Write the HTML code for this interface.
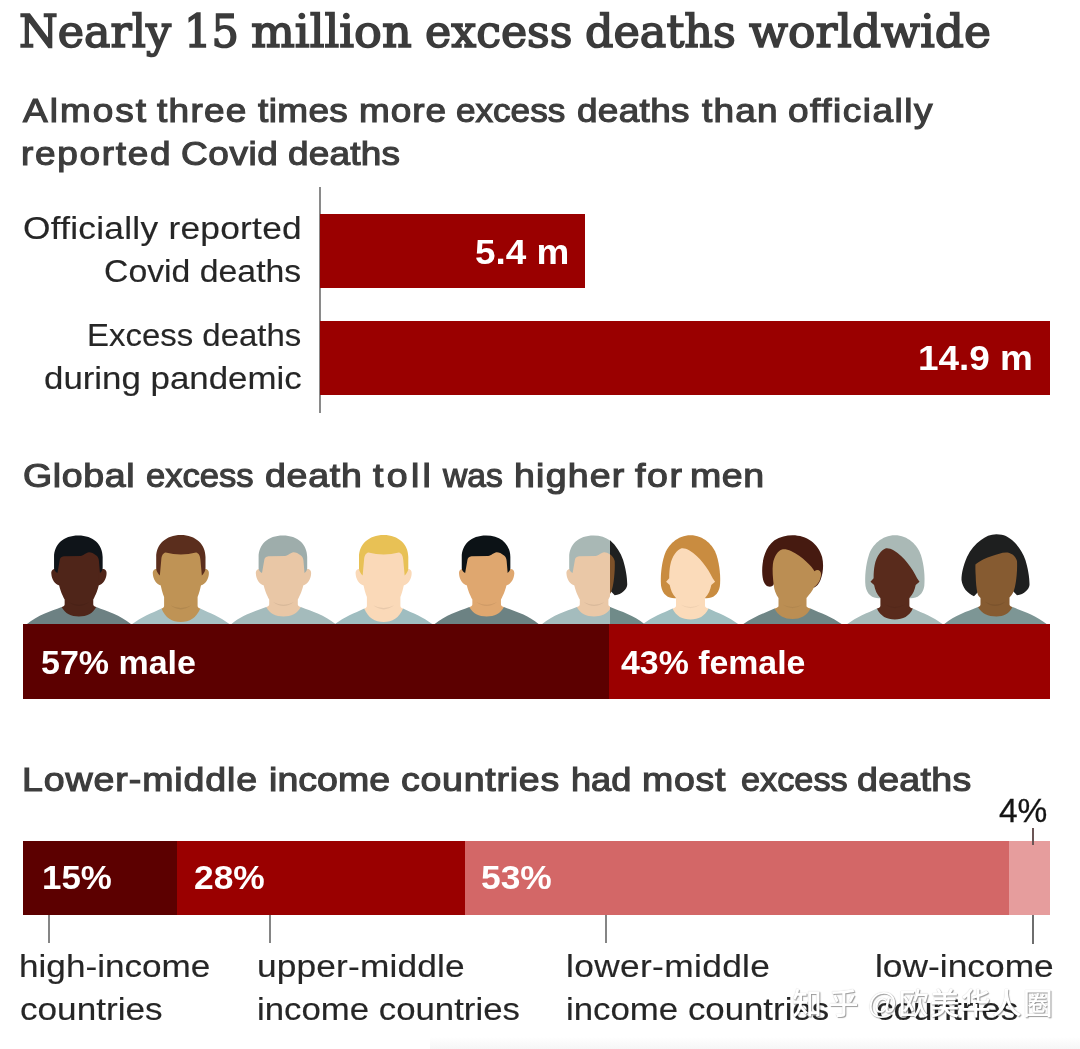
<!DOCTYPE html>
<html lang="en">
<head>
<meta charset="utf-8">
<title>Nearly 15 million excess deaths worldwide</title>
<style>
html,body{margin:0;padding:0;background:#fff}
#page{position:relative;width:1080px;height:1049px;overflow:hidden;background:#fff;font-family:"Liberation Sans",sans-serif}
h1,h2,p,section{margin:0;padding:0;font-size:inherit;font-weight:inherit;display:block;position:static}
.row{position:static}
.t{position:absolute;white-space:nowrap;transform-origin:0 0;margin:0;padding:0;display:block}
.title{font-family:"DejaVu Serif","Liberation Serif",serif;font-weight:normal;color:#3b3b3b;-webkit-text-stroke:1.6px #3b3b3b;paint-order:stroke fill}
.h2{font-weight:normal;color:#3d3d3d;-webkit-text-stroke:1.15px #3d3d3d}
.lab{font-weight:normal;color:#262626;-webkit-text-stroke:.15px #262626}
.val{font-weight:bold;color:#fff}
.pct4{font-weight:normal;color:#141414;-webkit-text-stroke:.3px #141414}
.bar{position:absolute}
.axis{position:absolute;background:#8a8a8a}
.tick{position:absolute;background:#858585;width:2px}
.people{position:absolute;left:0;top:530px}
.wm{position:absolute;white-space:nowrap;font-weight:500;font-family:"Liberation Sans","Noto Sans CJK SC",sans-serif;color:#fff;text-shadow:1px 1px 1px rgba(0,0,0,.38),0 0 1px rgba(0,0,0,.25);transform-origin:0 0}
.foot{position:absolute;left:430px;top:1037px;width:650px;height:12px;background:linear-gradient(#fff,#f6f6f6)}
</style>
</head>
<body>
<div id="page">
<div class="foot"></div>
<h1><span class="t title" style="left:18.78px;top:4.47px;font-size:44px;line-height:55px;transform:scaleX(1.0082)">Nearly</span> <span class="t title" style="left:183.89px;top:4.47px;font-size:44px;line-height:55px;transform:scaleX(0.9814)">15</span> <span class="t title" style="left:250.55px;top:4.47px;font-size:44px;line-height:55px;transform:scaleX(1.0515)">million</span> <span class="t title" style="left:424.59px;top:4.47px;font-size:44px;line-height:55px;transform:scaleX(1.0055)">excess</span> <span class="t title" style="left:584.58px;top:4.47px;font-size:44px;line-height:55px;transform:scaleX(1.0120)">deaths</span> <span class="t title" style="left:749.10px;top:4.47px;font-size:44px;line-height:55px;transform:scaleX(1.0366)">worldwide</span></h1>

<!-- section 1: officially reported vs excess deaths -->
<section>
<h2><span class="t h2" style="left:22.57px;top:90.48px;font-size:33px;line-height:41px;transform:scaleX(1.1200);letter-spacing:1.801px">Almost</span> <span class="t h2" style="left:156.57px;top:90.48px;font-size:33px;line-height:41px;transform:scaleX(1.1200);letter-spacing:1.143px">three</span> <span class="t h2" style="left:257.57px;top:90.48px;font-size:33px;line-height:41px;transform:scaleX(1.1200);letter-spacing:0.336px">times</span> <span class="t h2" style="left:359.33px;top:90.48px;font-size:33px;line-height:41px;transform:scaleX(1.1200);letter-spacing:0.833px">more</span> <span class="t h2" style="left:456.11px;top:90.48px;font-size:33px;line-height:41px;transform:scaleX(1.0637)">excess</span> <span class="t h2" style="left:576.86px;top:90.48px;font-size:33px;line-height:41px;transform:scaleX(1.1200);letter-spacing:0.279px">deaths</span> <span class="t h2" style="left:701.98px;top:90.48px;font-size:33px;line-height:41px;transform:scaleX(1.1200);letter-spacing:1.081px">than</span> <span class="t h2" style="left:788.46px;top:90.48px;font-size:33px;line-height:41px;transform:scaleX(1.1200);letter-spacing:1.352px">officially</span>
<span class="t h2" style="left:21.34px;top:133.48px;font-size:33px;line-height:41px;transform:scaleX(1.1200);letter-spacing:1.523px">reported</span> <span class="t h2" style="left:181.05px;top:133.48px;font-size:33px;line-height:41px;transform:scaleX(1.1200);letter-spacing:0.534px">Covid</span> <span class="t h2" style="left:288.45px;top:133.48px;font-size:33px;line-height:41px;transform:scaleX(1.1200);letter-spacing:0.189px">deaths</span></h2>
<div class="axis" style="left:319px;top:187px;width:2px;height:226px"></div>
<div class="row">
<p><span class="t lab" style="left:22.95px;top:209.20px;font-size:31.5px;line-height:39px;transform:scaleX(1.1200);letter-spacing:0.238px">Officially reported</span> <span class="t lab" style="left:103.50px;top:252.00px;font-size:31.5px;line-height:39px;transform:scaleX(1.0727)">Covid deaths</span></p>
<div class="bar" style="left:320px;top:214px;width:265px;height:74px;background:#9a0000"></div>
<span class="t val" style="left:474.93px;top:231.04px;font-size:34.5px;line-height:43px;transform:scaleX(1.0696)">5.4 m</span>
</div>
<div class="row">
<p><span class="t lab" style="left:87.48px;top:315.80px;font-size:31.5px;line-height:39px;transform:scaleX(1.0457)">Excess deaths</span> <span class="t lab" style="left:44.17px;top:358.50px;font-size:31.5px;line-height:39px;transform:scaleX(1.1060)">during pandemic</span></p>
<div class="bar" style="left:320px;top:321px;width:730px;height:74px;background:#9a0000"></div>
<span class="t val" style="left:918.36px;top:337.04px;font-size:34.5px;line-height:43px;transform:scaleX(1.0701)">14.9 m</span>
</div>
</section>

<!-- section 2: gender split -->
<section>
<h2><span class="t h2" style="left:22.85px;top:454.81px;font-size:33.5px;line-height:42px;transform:scaleX(1.1200);letter-spacing:0.559px">Global</span> <span class="t h2" style="left:145.54px;top:454.81px;font-size:33.5px;line-height:42px;transform:scaleX(1.0326)">excess</span> <span class="t h2" style="left:265.45px;top:454.81px;font-size:33.5px;line-height:42px;transform:scaleX(1.1200);letter-spacing:0.648px">death</span> <span class="t h2" style="left:372.57px;top:454.81px;font-size:33.5px;line-height:42px;transform:scaleX(1.1200);letter-spacing:2.947px">toll</span> <span class="t h2" style="left:442.98px;top:454.81px;font-size:33.5px;line-height:42px;transform:scaleX(1.0038)">was</span> <span class="t h2" style="left:513.74px;top:454.81px;font-size:33.5px;line-height:42px;transform:scaleX(1.1200);letter-spacing:1.083px">higher</span> <span class="t h2" style="left:634.58px;top:454.81px;font-size:33.5px;line-height:42px;transform:scaleX(1.1200);letter-spacing:1.446px">for</span> <span class="t h2" style="left:690.34px;top:454.81px;font-size:33.5px;line-height:42px;transform:scaleX(1.1200);letter-spacing:0.504px">men</span></h2>
<svg class="people" width="1080" height="100" viewBox="0 530 1080 100" aria-hidden="true">
<defs><clipPath id="cl"><rect x="500" y="520" width="110" height="120"/></clipPath><clipPath id="cr"><rect x="610" y="520" width="100" height="120"/></clipPath></defs>
<g><path d="M59.95,555 L57.45,555 57.15,569.6 C54.45,568 50.75,569.5 51.35,574 C51.75,579 54.45,584.5 59.95,585.5 Z" fill="#4f2519"/>
<path d="M97.95,555 L100.45,555 100.75,569.6 C103.45,568 107.15,569.5 106.55,574 C106.15,579 103.45,584.5 97.95,585.5 Z" fill="#4f2519"/>
<path d="M58.95,548 L58.95,584 C59.65,589 62.45,595.5 64.65,599.5 L64.65,604.5 C64.65,606 62.65,606.7 61.65,607 L61.65,626 96.25,626 96.25,607 C95.25,606.7 93.25,606 93.25,604.5 L93.25,599.5 C95.45,595.5 98.25,589 98.95,584 L98.95,548 Z" fill="#4f2519"/>
<path d="M68.45,602 Q78.95,607.4 89.45,602 Q78.95,610.2 68.45,602 Z" fill="#000" opacity=".07"/>
<path d="M26.65,626 L26.65,624.2 C38.32,614.67 49.98,611.63 61.65,607 C65.11,613.65 71.16,616.5 78.95,616.5 C86.73,616.5 92.79,613.65 96.25,607 C107.92,611.63 119.58,614.67 131.25,624.2 L131.25,626 Z" fill="#6d8183"/>
<path d="M54.05,568.5 L54.05,557 C54.05,544.5 63.35,535.4 78.35,535.4 C93.35,535.4 102.65,544.5 102.65,557 L102.65,568.5 C102.35,570.5 101.15,572 99.95,573 L98.95,561 C98.75,558.5 97.95,556.6 96.35,555.6 C93.85,553.4 90.85,552.2 88.95,552.3 C85.85,552.5 83.85,555.8 80.35,556.1 L63.85,556.2 C61.35,556.4 59.85,558 59.65,560.5 L57.45,573 C55.75,572 54.35,570.5 54.05,568.5 Z" fill="#0f1419"/></g>
<g><path d="M161.45,555 L158.95,555 158.65,569.6 C155.95,568 152.25,569.5 152.85,574 C153.25,579 155.95,584.5 161.45,585.5 Z" fill="#bf9355"/>
<path d="M200.25,555 L202.75,555 203.05,569.6 C205.75,568 209.45,569.5 208.85,574 C208.45,579 205.75,584.5 200.25,585.5 Z" fill="#bf9355"/>
<path d="M160.45,548 L160.45,584 C161.25,588.5 162.55,593 164.1,597 L164.1,606 C164.1,607.5 162.45,608.2 161.45,608.5 L161.45,626 200.25,626 200.25,608.5 C199.25,608.2 197.6,607.5 197.6,606 L197.6,597 C199.15,593 200.45,588.5 201.25,584 L201.25,548 Z" fill="#bf9355"/>
<path d="M170.35,605.3 Q180.85,610.7 191.35,605.3 Q180.85,613.5 170.35,605.3 Z" fill="#000" opacity=".07"/>
<path d="M131.85,626 L131.85,624.2 C141.72,616.97 151.58,613.13 161.45,608.5 C165.33,617.95 172.12,622 180.85,622 C189.58,622 196.37,617.95 200.25,608.5 C210.12,613.13 219.98,616.97 229.85,624.2 L229.85,626 Z" fill="#a7c1c4"/>
<path d="M156.2,568.5 L156.2,557 C156.2,544.5 165.85,535 180.85,535 C195.85,535 205.5,544.5 205.5,557 L205.5,568.5 C205.3,571.5 203.45,574 201.85,575.5 L200.45,560 C200.25,556 198.85,553 196.05,552.4 Q180.85,556.6 165.65,552.4 C162.85,553 161.45,556 161.25,560 L159.85,575.5 C158.25,574 156.4,571.5 156.2,568.5 Z" fill="#5b2e1d"/></g>
<g><path d="M264.5,555 L262,555 261.7,569.6 C259,568 255.3,569.5 255.9,574 C256.3,579 259,584.5 264.5,585.5 Z" fill="#e9c7a6"/>
<path d="M302.5,555 L305,555 305.3,569.6 C308,568 311.7,569.5 311.1,574 C310.7,579 308,584.5 302.5,585.5 Z" fill="#e9c7a6"/>
<path d="M263.5,548 L263.5,584 C264.2,589 267,595.5 269.2,599.5 L269.2,604.5 C269.2,606 267.2,606.7 266.2,607 L266.2,626 300.8,626 300.8,607 C299.8,606.7 297.8,606 297.8,604.5 L297.8,599.5 C300,595.5 302.8,589 303.5,584 L303.5,548 Z" fill="#e9c7a6"/>
<path d="M273,602 Q283.5,607.4 294,602 Q283.5,610.2 273,602 Z" fill="#000" opacity=".07"/>
<path d="M231.2,626 L231.2,624.2 C242.87,614.67 254.53,611.63 266.2,607 C269.66,613.65 275.71,616.5 283.5,616.5 C291.29,616.5 297.34,613.65 300.8,607 C312.47,611.63 324.13,614.67 335.8,624.2 L335.8,626 Z" fill="#a4bbbc"/>
<path d="M258.6,568.5 L258.6,557 C258.6,544.5 267.9,535.4 282.9,535.4 C297.9,535.4 307.2,544.5 307.2,557 L307.2,568.5 C306.9,570.5 305.7,572 304.5,573 L303.5,561 C303.3,558.5 302.5,556.6 300.9,555.6 C298.4,553.4 295.4,552.2 293.5,552.3 C290.4,552.5 288.4,555.8 284.9,556.1 L268.4,556.2 C265.9,556.4 264.4,558 264.2,560.5 L262,573 C260.3,572 258.9,570.5 258.6,568.5 Z" fill="#9eadab"/></g>
<g><path d="M364.25,555 L361.75,555 361.45,569.6 C358.75,568 355.05,569.5 355.65,574 C356.05,579 358.75,584.5 364.25,585.5 Z" fill="#fad9b8"/>
<path d="M403.05,555 L405.55,555 405.85,569.6 C408.55,568 412.25,569.5 411.65,574 C411.25,579 408.55,584.5 403.05,585.5 Z" fill="#fad9b8"/>
<path d="M363.25,548 L363.25,584 C364.05,588.5 365.35,593 366.9,597 L366.9,606 C366.9,607.5 365.25,608.2 364.25,608.5 L364.25,626 403.05,626 403.05,608.5 C402.05,608.2 400.4,607.5 400.4,606 L400.4,597 C401.95,593 403.25,588.5 404.05,584 L404.05,548 Z" fill="#fad9b8"/>
<path d="M373.15,605.3 Q383.65,610.7 394.15,605.3 Q383.65,613.5 373.15,605.3 Z" fill="#000" opacity=".07"/>
<path d="M334.65,626 L334.65,624.2 C344.52,616.97 354.38,613.13 364.25,608.5 C368.13,617.95 374.92,622 383.65,622 C392.38,622 399.17,617.95 403.05,608.5 C412.92,613.13 422.78,616.97 432.65,624.2 L432.65,626 Z" fill="#9fbdc0"/>
<path d="M359,568.5 L359,557 C359,544.5 368.65,535 383.65,535 C398.65,535 408.3,544.5 408.3,557 L408.3,568.5 C408.1,571.5 406.25,574 404.65,575.5 L403.25,560 C403.05,556 401.65,553 398.85,552.4 Q383.65,556.6 368.45,552.4 C365.65,553 364.25,556 364.05,560 L362.65,575.5 C361.05,574 359.2,571.5 359,568.5 Z" fill="#e8c155"/></g>
<g><path d="M467.65,555 L465.15,555 464.85,569.6 C462.15,568 458.45,569.5 459.05,574 C459.45,579 462.15,584.5 467.65,585.5 Z" fill="#dfa76f"/>
<path d="M505.65,555 L508.15,555 508.45,569.6 C511.15,568 514.85,569.5 514.25,574 C513.85,579 511.15,584.5 505.65,585.5 Z" fill="#dfa76f"/>
<path d="M466.65,548 L466.65,584 C467.35,589 470.15,595.5 472.35,599.5 L472.35,604.5 C472.35,606 470.35,606.7 469.35,607 L469.35,626 503.95,626 503.95,607 C502.95,606.7 500.95,606 500.95,604.5 L500.95,599.5 C503.15,595.5 505.95,589 506.65,584 L506.65,548 Z" fill="#dfa76f"/>
<path d="M476.15,602 Q486.65,607.4 497.15,602 Q486.65,610.2 476.15,602 Z" fill="#000" opacity=".07"/>
<path d="M434.35,626 L434.35,624.2 C446.02,614.67 457.68,611.63 469.35,607 C472.81,613.65 478.87,616.5 486.65,616.5 C494.44,616.5 500.49,613.65 503.95,607 C515.62,611.63 527.28,614.67 538.95,624.2 L538.95,626 Z" fill="#6c8283"/>
<path d="M461.75,568.5 L461.75,557 C461.75,544.5 471.05,535.4 486.05,535.4 C501.05,535.4 510.35,544.5 510.35,557 L510.35,568.5 C510.05,570.5 508.85,572 507.65,573 L506.65,561 C506.45,558.5 505.65,556.6 504.05,555.6 C501.55,553.4 498.55,552.2 496.65,552.3 C493.55,552.5 491.55,555.8 488.05,556.1 L471.55,556.2 C469.05,556.4 467.55,558 467.35,560.5 L465.15,573 C463.45,572 462.05,570.5 461.75,568.5 Z" fill="#0c1216"/></g>
<g clip-path="url(#cl)"><path d="M575.1,555 L572.6,555 572.3,569.6 C569.6,568 565.9,569.5 566.5,574 C566.9,579 569.6,584.5 575.1,585.5 Z" fill="#eac8a7"/>
<path d="M613.1,555 L615.6,555 615.9,569.6 C618.6,568 622.3,569.5 621.7,574 C621.3,579 618.6,584.5 613.1,585.5 Z" fill="#eac8a7"/>
<path d="M574.1,548 L574.1,584 C574.8,589 577.6,595.5 579.8,599.5 L579.8,604.5 C579.8,606 577.8,606.7 576.8,607 L576.8,626 611.4,626 611.4,607 C610.4,606.7 608.4,606 608.4,604.5 L608.4,599.5 C610.6,595.5 613.4,589 614.1,584 L614.1,548 Z" fill="#eac8a7"/>
<path d="M583.6,602 Q594.1,607.4 604.6,602 Q594.1,610.2 583.6,602 Z" fill="#000" opacity=".07"/>
<path d="M541.8,626 L541.8,624.2 C553.47,614.67 565.13,611.63 576.8,607 C580.26,613.65 586.32,616.5 594.1,616.5 C601.88,616.5 607.94,613.65 611.4,607 C623.07,611.63 634.73,614.67 646.4,624.2 L646.4,626 Z" fill="#a4bcbd"/>
<path d="M569.2,568.5 L569.2,557 C569.2,544.5 578.5,535.4 593.5,535.4 C608.5,535.4 617.8,544.5 617.8,557 L617.8,568.5 C617.5,570.5 616.3,572 615.1,573 L614.1,561 C613.9,558.5 613.1,556.6 611.5,555.6 C609,553.4 606,552.2 604.1,552.3 C601,552.5 599,555.8 595.5,556.1 L579,556.2 C576.5,556.4 575,558 574.8,560.5 L572.6,573 C570.9,572 569.5,570.5 569.2,568.5 Z" fill="#a9b8b5"/></g>
<g clip-path="url(#cr)"><path d="M594.1,534.2 C602.1,534.2 606.1,537 609.7,540 C616.1,545.5 620.6,552.5 623.1,560 C625.6,568 627.4,578 627.2,585 C626.9,589 622.1,594.5 614.7,595.3 L610.6,591 594.1,580 575.3,592.5 L571.7,596.2 C565.1,593.5 560.1,587.5 559.2,580 C559.1,574 561.1,565 564.7,557 C568.1,549.5 573.1,544 578.7,540 C583.1,536.5 588.1,534.2 594.1,534.2 Z" fill="#1f2020"/>
<path d="M573.1,564.5 C577.1,561 584.1,557.5 589.7,556 C595.1,554.3 599.1,552.4 603.7,552.4 C608.1,552.4 613.1,555 614.7,561 C615,567 614.7,574 613.7,581 C613.1,585 612.3,589 611.1,592 C610.1,594 608.6,596 607.2,597.5 L607.2,604.5 C607.2,606 609.2,606.7 610.2,607 L610.2,626 575.7,626 575.7,607 C576.7,606.7 578.2,606 578.2,604.5 L578.2,598 C576.6,596.5 575.5,595 575.1,593 C574.1,588 573.5,582 573.4,576 C573.2,572 573,568 573.1,564.5 Z" fill="#7d5129"/>
<path d="M582.4,601.5 Q592.9,607.6 603.4,601.5 Q592.9,610.5 582.4,601.5 Z" fill="#000" opacity=".08"/>
<path d="M541.7,626 L541.7,624.2 C553.03,615.07 564.37,611.73 575.7,607 C579.38,613.65 585.82,616.5 594.1,616.5 C601.35,616.5 606.98,613.65 610.2,607 C621.7,611.73 633.2,615.07 644.7,624.2 L644.7,626 Z" fill="#708b89"/></g>
<g><path d="M674.5,598.3 C668,598.3 662.5,594.5 661.1,586 C660.2,577 661.3,565 664.5,555 C667.7,545 677.5,535.2 690.5,535.2 C703.5,535.2 713.3,545 716.5,555 C719.7,565 720.8,577 719.9,586 C718.5,594.5 713,598.3 706.5,598.3 Z" fill="#c98c40"/>
<path d="M681,548.5 C677.5,549.5 672,556 670.3,565 C669.5,569 669.2,573 669.2,578.2 L666.1,581.7 669.7,585 C670.7,590 672.3,594 676,598 L676,606 C676,607.5 673.5,608.2 672.5,608.5 L672.5,626 708.5,626 708.5,608.5 C707.5,608.2 705,607.5 705,606 L705,598 C708.7,594 710.3,590 711.3,585 L715.1,581.7 712.7,578.2 C708,568.5 699.5,556.5 689.5,550.5 C686.5,548.8 683.5,548 681,548.5 Z" fill="#fbdbba"/>
<path d="M680.5,604.6 Q690.5,609.5 700.5,604.6 Q690.5,612 680.5,604.6 Z" fill="#000" opacity=".05"/>
<path d="M642.5,626 L642.5,624.2 C652.5,616.97 662.5,613.13 672.5,608.5 C676.1,616.2 682.4,619.5 690.5,619.5 C698.6,619.5 704.9,616.2 708.5,608.5 C718.5,613.13 728.5,616.97 738.5,624.2 L738.5,626 Z" fill="#a0bfc1"/></g>
<g><path d="M762.2,572 C761.9,560 765.5,547 774.5,540.3 C780,536.6 786.5,535.2 792.5,535.2 C806.5,535.2 818.5,543.5 822.1,557 C823.7,563.5 823.5,572.5 820.5,580 C818.8,584 816.7,586.5 813.8,587.8 L792.5,575 774.1,583 C773.9,586 771,587 768.5,586.6 C764,585.5 762.3,579 762.2,572 Z" fill="#461a10"/>
<path d="M782,549.5 C778.5,550.3 774.1,556 772.9,564 C772.2,570 772.9,578 773.7,585 C774.2,590 775.9,594.5 778.5,598 L778.5,606 C778.5,607.5 775.5,608.2 774.5,608.5 L774.5,626 810.5,626 810.5,608.5 C809.5,608.2 806.5,607.5 806.5,606 L806.5,598 C809.5,594.5 812.3,591 814.1,587 C818,585 820.8,579 821.1,574.5 C821.3,570.5 817.5,568.5 814.5,571.2 C812,566.5 802.5,556.5 791,551 C788,549.6 784.5,549 782,549.5 Z" fill="#bb8e53"/>
<path d="M782.5,604.6 Q792.5,609.5 802.5,604.6 Q792.5,612 782.5,604.6 Z" fill="#000" opacity=".05"/>
<path d="M743,626 L743,624.2 C753.5,616.97 764,613.13 774.5,608.5 C778.1,615.85 784.4,619 792.5,619 C800.6,619 806.9,615.85 810.5,608.5 C821,613.13 831.5,616.97 842,624.2 L842,626 Z" fill="#6f8686"/></g>
<g><path d="M878.9,598.3 C872.4,598.3 866.9,594.5 865.5,586 C864.6,577 865.7,565 868.9,555 C872.1,545 881.9,535.2 894.9,535.2 C907.9,535.2 917.7,545 920.9,555 C924.1,565 925.2,577 924.3,586 C922.9,594.5 917.4,598.3 910.9,598.3 Z" fill="#aab9b6"/>
<path d="M885.4,548.5 C881.9,549.5 876.4,556 874.7,565 C873.9,569 873.6,573 873.6,578.2 L870.5,581.7 874.1,585 C875.1,590 876.7,594 880.4,598 L880.4,606 C880.4,607.5 877.9,608.2 876.9,608.5 L876.9,626 912.9,626 912.9,608.5 C911.9,608.2 909.4,607.5 909.4,606 L909.4,598 C913.1,594 914.7,590 915.7,585 L919.5,581.7 917.1,578.2 C912.4,568.5 903.9,556.5 893.9,550.5 C890.9,548.8 887.9,548 885.4,548.5 Z" fill="#592b1c"/>
<path d="M884.9,604.6 Q894.9,609.5 904.9,604.6 Q894.9,612 884.9,604.6 Z" fill="#000" opacity=".05"/>
<path d="M846.9,626 L846.9,624.2 C856.9,616.97 866.9,613.13 876.9,608.5 C880.5,616.2 886.8,619.5 894.9,619.5 C903,619.5 909.3,616.2 912.9,608.5 C922.9,613.13 932.9,616.97 942.9,624.2 L942.9,626 Z" fill="#a7bbba"/></g>
<g><path d="M996.4,534.2 C1004.4,534.2 1008.4,537 1012,540 C1018.4,545.5 1022.9,552.5 1025.4,560 C1027.9,568 1029.7,578 1029.5,585 C1029.2,589 1024.4,594.5 1017,595.3 L1012.9,591 996.4,580 977.6,592.5 L974,596.2 C967.4,593.5 962.4,587.5 961.5,580 C961.4,574 963.4,565 967,557 C970.4,549.5 975.4,544 981,540 C985.4,536.5 990.4,534.2 996.4,534.2 Z" fill="#1e1f1f"/>
<path d="M975.4,564.5 C979.4,561 986.4,557.5 992,556 C997.4,554.3 1001.4,552.4 1006,552.4 C1010.4,552.4 1015.4,555 1017,561 C1017.3,567 1017,574 1016,581 C1015.4,585 1014.6,589 1013.4,592 C1012.4,594 1010.9,596 1009.5,597.5 L1009.5,604.5 C1009.5,606 1011.5,606.7 1012.5,607 L1012.5,626 978,626 978,607 C979,606.7 980.5,606 980.5,604.5 L980.5,598 C978.9,596.5 977.8,595 977.4,593 C976.4,588 975.8,582 975.7,576 C975.5,572 975.3,568 975.4,564.5 Z" fill="#865b31"/>
<path d="M984.7,601.5 Q995.2,607.6 1005.7,601.5 Q995.2,610.5 984.7,601.5 Z" fill="#000" opacity=".08"/>
<path d="M944,626 L944,624.2 C955.33,615.07 966.67,611.73 978,607 C981.68,613.65 988.12,616.5 996.4,616.5 C1003.64,616.5 1009.28,613.65 1012.5,607 C1024,611.73 1035.5,615.07 1047,624.2 L1047,626 Z" fill="#7d9695"/></g>
</svg>
<div class="bar" style="left:23px;top:624px;width:586px;height:75px;background:#5c0000"></div>
<div class="bar" style="left:609px;top:624px;width:441px;height:75px;background:#9b0000"></div>
<span class="t val" style="left:41.49px;top:641.89px;font-size:33.5px;line-height:42px;transform:scaleX(1.0144)">57% male</span>
<span class="t val" style="left:620.75px;top:641.59px;font-size:33.5px;line-height:42px;transform:scaleX(1.0103)">43% female</span>
</section>

<!-- section 3: income groups -->
<section>
<h2><span class="t h2" style="left:22.34px;top:759.31px;font-size:33.5px;line-height:42px;transform:scaleX(1.1200);letter-spacing:0.810px">Lower-middle</span> <span class="t h2" style="left:268.94px;top:759.31px;font-size:33.5px;line-height:42px;transform:scaleX(1.1200);letter-spacing:0.044px">income</span> <span class="t h2" style="left:401.45px;top:759.31px;font-size:33.5px;line-height:42px;transform:scaleX(1.1200);letter-spacing:0.666px">countries</span> <span class="t h2" style="left:571.41px;top:759.31px;font-size:33.5px;line-height:42px;transform:scaleX(1.0801)">had</span> <span class="t h2" style="left:642.34px;top:759.31px;font-size:33.5px;line-height:42px;transform:scaleX(1.1200);letter-spacing:0.598px">most</span> <span class="t h2" style="left:740.55px;top:759.31px;font-size:33.5px;line-height:42px;transform:scaleX(1.0228)">excess</span> <span class="t h2" style="left:857.46px;top:759.31px;font-size:33.5px;line-height:42px;transform:scaleX(1.1200);letter-spacing:0.278px">deaths</span></h2>
<div class="bar" style="left:23px;top:841px;width:154px;height:74px;background:#5c0000"></div>
<div class="bar" style="left:177px;top:841px;width:288px;height:74px;background:#9a0000"></div>
<div class="bar" style="left:465px;top:841px;width:544px;height:74px;background:#d36767"></div>
<div class="bar" style="left:1009px;top:841px;width:41px;height:74px;background:#e69d9d"></div>
<div class="tick" style="left:48px;top:915px;height:28px"></div>
<div class="tick" style="left:269px;top:915px;height:28px"></div>
<div class="tick" style="left:605px;top:915px;height:28px"></div>
<div class="tick" style="left:1032px;top:915px;height:29px;background:#6e6e6e"></div>
<div class="tick" style="left:1032px;top:828px;height:17px;background:#6b5555"></div>
<span class="t pct4" style="left:998.75px;top:790.06px;font-size:33px;line-height:41px;transform:scaleX(1.0137)">4%</span>
<span class="t val" style="left:42.45px;top:855.96px;font-size:34px;line-height:42px;transform:scaleX(1.0255)">15%</span>
<span class="t val" style="left:194.46px;top:855.96px;font-size:34px;line-height:42px;transform:scaleX(1.0401)">28%</span>
<span class="t val" style="left:481.46px;top:855.96px;font-size:34px;line-height:42px;transform:scaleX(1.0401)">53%</span>
<p><span class="t lab" style="left:19.09px;top:947.00px;font-size:31.5px;line-height:39px;transform:scaleX(1.1155)">high-income</span> <span class="t lab" style="left:20.21px;top:990.00px;font-size:31.5px;line-height:39px;transform:scaleX(1.1153)">countries</span></p>
<p><span class="t lab" style="left:257.33px;top:947.00px;font-size:31.5px;line-height:39px;transform:scaleX(1.1200);letter-spacing:0.143px">upper-middle</span> <span class="t lab" style="left:257.37px;top:990.00px;font-size:31.5px;line-height:39px;transform:scaleX(1.1040)">income countries</span></p>
<p><span class="t lab" style="left:565.84px;top:947.00px;font-size:31.5px;line-height:39px;transform:scaleX(1.1200);letter-spacing:0.320px">lower-middle</span> <span class="t lab" style="left:565.86px;top:990.00px;font-size:31.5px;line-height:39px;transform:scaleX(1.1051)">income countries</span></p>
<p><span class="t lab" style="left:874.84px;top:947.00px;font-size:31.5px;line-height:39px;transform:scaleX(1.1200);letter-spacing:0.025px">low-income</span> <span class="t lab" style="left:875.96px;top:990.00px;font-size:31.5px;line-height:39px;transform:scaleX(1.1133)">countries</span></p>
</section>

<span class="wm" style="left:792px;top:982px;font-size:30px;line-height:44px;letter-spacing:1px;word-spacing:-1.5px"><span style="letter-spacing:6.5px">知</span>乎 @欧美华人圈</span>
</div>
</body>
</html>
